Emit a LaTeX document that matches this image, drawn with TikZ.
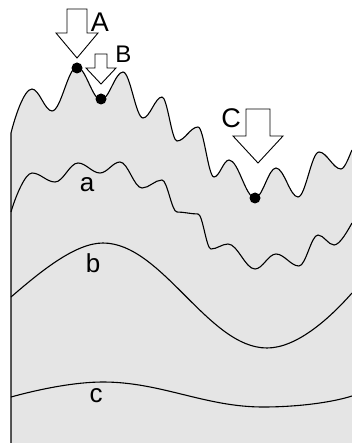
\documentclass[tikz,border=0pt]{standalone}
\usepackage{fontspec}
\setmainfont{Liberation Sans}
\definecolor{landgray}{RGB}{229,229,229}
\tikzset{
  curve/.style={line width=1.1pt, line join=round},
  blockarrow/.style={draw=black, fill=white, line width=0.9pt, line join=miter},
  ball/.style={fill=black},
  biglabel/.style={anchor=base, inner sep=0pt, font=\fontsize{27}{27}\selectfont},
  midlabel/.style={anchor=base, inner sep=0pt, font=\fontsize{24}{24}\selectfont},
  smalllabel/.style={anchor=base, inner sep=0pt, font=\fontsize{26}{26}\selectfont},
}
\begin{document}
\begin{tikzpicture}[x=1pt,y=1pt]
\useasboundingbox (0,0) rectangle (352,-443);
% landscape fill
\fill[landgray] (11,-443) -- (11,-133)
 .. controls (15,-117) and (24,-89) .. (32,-89)
 .. controls (39.2,-89) and (44.8,-111) .. (52,-111)
 .. controls (61,-111) and (68,-67) .. (77,-67)
 .. controls (85.6,-67) and (92.4,-100) .. (101,-100)
 .. controls (108.9,-100) and (115.1,-72) .. (123,-72)
 .. controls (130.2,-72) and (135.8,-118) .. (143,-118)
 .. controls (149.8,-118) and (155.2,-97) .. (162,-97)
 .. controls (167.4,-97) and (171.6,-141) .. (177,-141)
 .. controls (184.6,-141) and (190.4,-127) .. (198,-127)
 .. controls (203.8,-127) and (208.2,-177) .. (214,-177)
 .. controls (219.4,-177) and (223.6,-160) .. (229,-160)
 .. controls (238.4,-160) and (245.6,-198) .. (255,-198)
 .. controls (262.6,-198) and (268.4,-168) .. (276,-168)
 .. controls (283.9,-168) and (290.1,-197) .. (298,-197)
 .. controls (305.6,-197) and (311.4,-152) .. (319,-152)
 .. controls (326.9,-152) and (333.1,-169) .. (341,-169)
 .. controls (345,-169) and (350,-154) .. (352,-150)
 -- (352,-443) -- cycle;
% landscape outline
\draw[curve] (11,-443) -- (11,-133)
 .. controls (15,-117) and (24,-89) .. (32,-89)
 .. controls (39.2,-89) and (44.8,-111) .. (52,-111)
 .. controls (61,-111) and (68,-67) .. (77,-67)
 .. controls (85.6,-67) and (92.4,-100) .. (101,-100)
 .. controls (108.9,-100) and (115.1,-72) .. (123,-72)
 .. controls (130.2,-72) and (135.8,-118) .. (143,-118)
 .. controls (149.8,-118) and (155.2,-97) .. (162,-97)
 .. controls (167.4,-97) and (171.6,-141) .. (177,-141)
 .. controls (184.6,-141) and (190.4,-127) .. (198,-127)
 .. controls (203.8,-127) and (208.2,-177) .. (214,-177)
 .. controls (219.4,-177) and (223.6,-160) .. (229,-160)
 .. controls (238.4,-160) and (245.6,-198) .. (255,-198)
 .. controls (262.6,-198) and (268.4,-168) .. (276,-168)
 .. controls (283.9,-168) and (290.1,-197) .. (298,-197)
 .. controls (305.6,-197) and (311.4,-152) .. (319,-152)
 .. controls (326.9,-152) and (333.1,-169) .. (341,-169)
 .. controls (345,-169) and (350,-154) .. (352,-150);
% curve a
\draw[curve] (11,-212)
 .. controls (15,-198) and (25,-173) .. (32,-173)
 .. controls (40.3,-173) and (46.7,-182) .. (55,-182)
 .. controls (63.3,-182) and (69.7,-163) .. (78,-163)
 .. controls (85.9,-163) and (92.1,-173) .. (100,-173)
 .. controls (107.2,-173) and (112.8,-162) .. (120,-162)
 .. controls (127.9,-162) and (134.1,-188) .. (142,-188)
 .. controls (149.2,-188) and (154.8,-180) .. (162,-180)
 .. controls (167.4,-180) and (171.6,-212) .. (177,-212)
 .. controls (184.6,-212) and (190.4,-214) .. (198,-214)
 .. controls (202.7,-214) and (206.3,-249) .. (211,-249)
 .. controls (217.1,-249) and (221.9,-244) .. (228,-244)
 .. controls (237.7,-244) and (245.3,-269) .. (255,-269)
 .. controls (262.6,-269) and (268.4,-254) .. (276,-254)
 .. controls (284.3,-254) and (290.7,-266) .. (299,-266)
 .. controls (305.8,-266) and (311.2,-235) .. (318,-235)
 .. controls (323.8,-235) and (328.2,-245) .. (334,-245)
 .. controls (340,-245) and (348,-230) .. (352,-223);
% curve b
\draw[curve] (11,-297)
 .. controls (40,-272) and (75,-243) .. (103,-243)
 .. controls (162,-243) and (208,-348) .. (267,-348)
 .. controls (297,-348) and (330,-318) .. (352,-293);
% curve c
\draw[curve] (11,-397)
 .. controls (40,-389) and (75,-382) .. (103,-382)
 .. controls (161,-382) and (205,-407) .. (263,-407)
 .. controls (295,-407) and (330,-403) .. (352,-396);
% block arrows
\draw[blockarrow] (67,-9) -- (87,-9) -- (87,-33) -- (98,-33) -- (77,-58) -- (56,-33) -- (67,-33) -- cycle;
\draw[blockarrow] (95,-54) -- (107,-54) -- (107,-68) -- (116,-68) -- (101,-84) -- (86,-68) -- (95,-68) -- cycle;
\draw[blockarrow] (246,-109) -- (270,-109) -- (270,-136) -- (283,-136) -- (258,-163) -- (233,-136) -- (246,-136) -- cycle;
% balls
\fill[ball] (77,-68) circle (5.5);
\fill[ball] (101,-99) circle (5.5);
\fill[ball] (255,-198) circle (5.5);
% labels
\node[biglabel] (labA) at (100,-32) {A};
\node[midlabel] (labB) at (123.5,-63) {B};
\node[biglabel] (labC) at (231,-128) {C};
\node[smalllabel] (laba) at (87,-192) {a};
\node[smalllabel] (labb) at (93,-272) {b};
\node[smalllabel] (labc) at (96,-402) {c};
\end{tikzpicture}
\end{document}
